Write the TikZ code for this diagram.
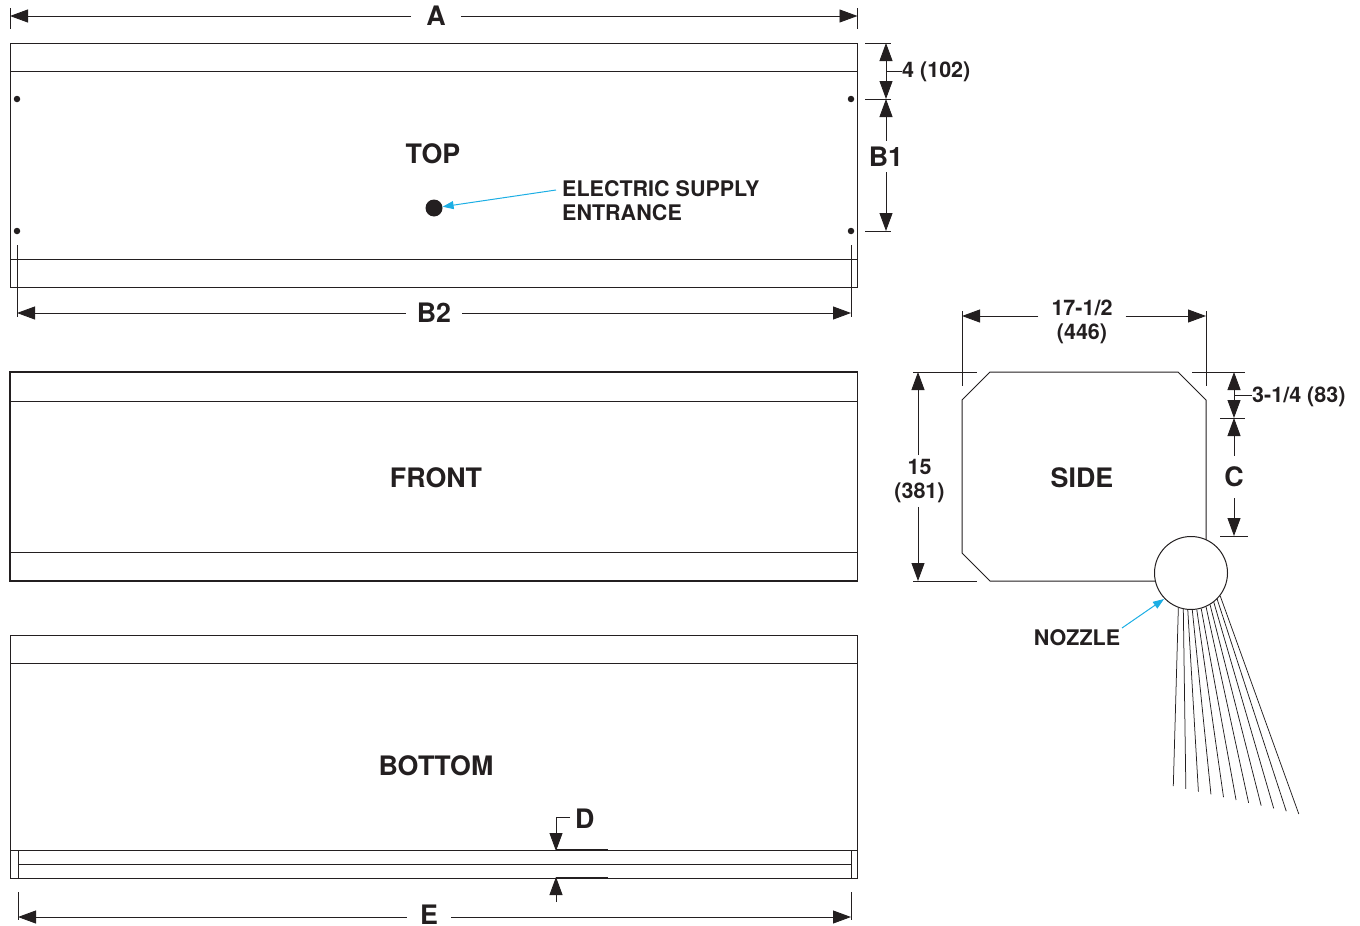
\documentclass[tikz,border=0pt]{standalone}
\usepackage{fontspec}
\setmainfont{TeX Gyre Heros}
\usetikzlibrary{arrows.meta}
\definecolor{inkblack}{HTML}{231F20}
\definecolor{leadercyan}{HTML}{1CAEE4}
\begin{document}
\begin{tikzpicture}[
        x=1pt, y=-1pt,
        >={Triangle[length=18pt,width=13pt]},
        outline/.style={draw=inkblack, line width=0.8pt},
        dimline/.style={draw=inkblack, line width=0.9pt},
        extline/.style={draw=inkblack, line width=0.7pt},
        jetline/.style={draw=inkblack, line width=0.75pt},
        leader/.style={draw=leadercyan, line width=1pt, -{Triangle[length=11pt,width=8pt]}},
        viewlabel/.style={font=\bfseries\fontsize{26.8}{28}\selectfont, text=inkblack, inner sep=0pt},
        dimlabel/.style={font=\bfseries\fontsize{26.8}{28}\selectfont, text=inkblack, inner sep=0pt},
        smalllabel/.style={font=\bfseries\fontsize{21.5}{24}\selectfont, text=inkblack, inner sep=0pt, align=center},
        bolthole/.style={circle, fill=inkblack, inner sep=0pt, minimum size=6.5pt}
    ]
 \useasboundingbox (0,0) rectangle (1360,926);

 \draw[outline] (10,43) rectangle (857.5,287);
 \draw[outline] (10,71) -- (857.5,71);
 \draw[outline] (10,259) -- (857.5,259);
 \node[bolthole] (holeNW) at (17,99) {};
 \node[bolthole] (holeNE) at (851,99) {};
 \node[bolthole] (holeSW) at (17,231) {};
 \node[bolthole] (holeSE) at (851,231) {};
 \node[viewlabel] (top) at (433,153.5) {TOP};
 \node[circle, fill=inkblack, inner sep=0pt, minimum size=17pt] (entry) at (434,208) {};
 \node[smalllabel, align=left, anchor=west] (supply) at (562,200.5) {ELECTRIC SUPPLY\\ENTRANCE};
 \coordinate (supplytail) at (556,190);
 \draw[leader] (supplytail) -- (entry);

 \draw[extline] (857.5,8) -- (857.5,29);
 \draw[extline] (10,8) -- (10,29);
 \node[dimlabel, inner xsep=15pt] (A) at (436,16) {A};
 \coordinate (Aleft) at (10,16);
 \coordinate (Aright) at (857.5,16);
 \draw[dimline,->] (A.west |- Aleft) -- (Aleft);
 \draw[dimline,->] (A.east |- Aright) -- (Aright);

 \draw[extline] (865,43) -- (891,43);
 \draw[extline] (865,99) -- (891,99);
 \draw[extline] (865,231) -- (891,231);
 \coordinate (fourtop) at (886,43);
 \coordinate (fourbot) at (886,99);
 \coordinate (fourmid) at (886,71);
 \draw[dimline,<->] (fourtop) -- (fourbot);
 \node[smalllabel, anchor=west] (four) at (902,71.5) {4 (102)};
 \draw[dimline] (fourmid) -- (four.west |- fourmid);
 \node[dimlabel, inner ysep=6pt] (B1) at (886,156.5) {B1};
 \coordinate (B1bot) at (886,231);
 \draw[dimline,->] (B1) -- (fourbot);
 \draw[dimline,->] (B1) -- (B1bot);

 \draw[extline] (17,245) -- (17,317);
 \draw[extline] (851,245) -- (851,317);
 \node[dimlabel, inner xsep=11pt] (B2) at (434,313) {B2};
 \coordinate (B2left) at (17,313);
 \coordinate (B2right) at (851,313);
 \draw[dimline,->] (B2.west |- B2left) -- (B2left);
 \draw[dimline,->] (B2.east |- B2right) -- (B2right);

 \draw[outline, line width=1.5pt] (10,372) rectangle (857.5,581);
 \draw[outline] (10,401) -- (857.5,401);
 \draw[outline] (10,552) -- (857.5,552);
 \node[viewlabel] (front) at (436,477.5) {FRONT};

 \draw[outline] (10,635) rectangle (857.5,878);
 \draw[outline] (10,663) -- (857.5,663);
 \draw[outline] (10,850) -- (857.5,850);
 \draw[outline] (18,864) -- (851,864);
 \draw[outline] (18,850) -- (18,878);
 \draw[outline] (851,850) -- (851,878);
 \draw[outline, line width=1.4pt] (556,850) -- (608,850);
 \draw[outline, line width=1.4pt] (556,878) -- (608,878);
 \node[viewlabel] (bottom) at (436,765.5) {BOTTOM};
 \node[dimlabel, anchor=west] (D) at (575,818.5) {D};
 \coordinate (Dcorner) at (556,817);
 \coordinate (Dstart) at (570,817);
 \coordinate (Dtop) at (556,851);
 \coordinate (Dbot) at (556,877);
 \coordinate (Dtail) at (556,902);
 \draw[dimline,->] (Dstart) -- (Dcorner) -- (Dtop);
 \draw[dimline,->] (Dtail) -- (Dbot);

 \draw[extline] (18,892) -- (18,920);
 \draw[extline] (851,892) -- (851,920);
 \node[dimlabel, inner xsep=13pt] (E) at (429,915) {E};
 \coordinate (Eleft) at (18,917);
 \coordinate (Eright) at (851,917);
 \draw[dimline,->] (E.west |- Eleft) -- (Eleft);
 \draw[dimline,->] (E.east |- Eright) -- (Eright);

 \draw[outline, line width=1pt] (1155,581) -- (990,581) -- (962,553) -- (962,400) -- (990,372) -- (1178,372) -- (1206,400) -- (1206,540);
 \node[viewlabel] (side) at (1082,477.5) {SIDE};
 \draw[extline] (962,311) -- (962,386);
 \draw[extline] (1206,311) -- (1206,386);
 \draw[extline] (913,372) -- (977,372);
 \draw[extline] (913,581) -- (977,581);
 \draw[extline] (1192,372) -- (1245,372);
 \draw[extline] (1220,418) -- (1245,418);
 \draw[extline] (1220,536) -- (1248,536);

 \node[smalllabel, inner xsep=13pt] (width) at (1082,321.5) {17-1/2\\(446)};
 \coordinate (widthleft) at (962,316);
 \coordinate (widthright) at (1206,316);
 \draw[dimline,->] (width.west |- widthleft) -- (widthleft);
 \draw[dimline,->] (width.east |- widthright) -- (widthright);

 \node[smalllabel, inner ysep=4pt] (height) at (919.5,481) {15\\(381)};
 \coordinate (heighttop) at (918,372);
 \coordinate (heightbot) at (918,581);
 \draw[dimline,->] (heighttop |- height.north) -- (heighttop);
 \draw[dimline,->] (heightbot |- height.south) -- (heightbot);

 \coordinate (chamfertop) at (1234,372);
 \coordinate (chamferbot) at (1234,418);
 \coordinate (chamfermid) at (1234,395);
 \draw[dimline,<->] (chamfertop) -- (chamferbot);
 \node[smalllabel, anchor=west] (chamfer) at (1252,396.5) {3-1/4 (83)};
 \draw[dimline] (chamfermid) -- (chamfer.west |- chamfermid);
 \node[dimlabel, inner ysep=11pt] (C) at (1234,477) {C};
 \coordinate (Cbot) at (1234,536);
 \draw[dimline,->] (C) -- (chamferbot);
 \draw[dimline,->] (C) -- (Cbot);

 \node[circle, draw=inkblack, line width=1pt, fill=white, inner sep=0pt, minimum size=73pt] (nozzle) at (1191,573) {};
 \foreach \i in {0,...,10} {
     \pgfmathsetmacro{\ang}{-110+7.2*\i}
     \pgfmathsetmacro{\jetx}{1173.3+12.55*\i}
     \pgfmathsetmacro{\jety}{786+2.8*\i}
     \coordinate (jet\i) at (\jetx,\jety);
     \draw[jetline] (nozzle.\ang) -- (jet\i);
 }
 \node[smalllabel] (nozzlelabel) at (1077,638) {NOZZLE};
 \coordinate (nozzletail) at (1122,628);
 \coordinate (nozzletip) at (1164,599);
 \draw[leader] (nozzletail) -- (nozzletip);
\end{tikzpicture}
\end{document}
